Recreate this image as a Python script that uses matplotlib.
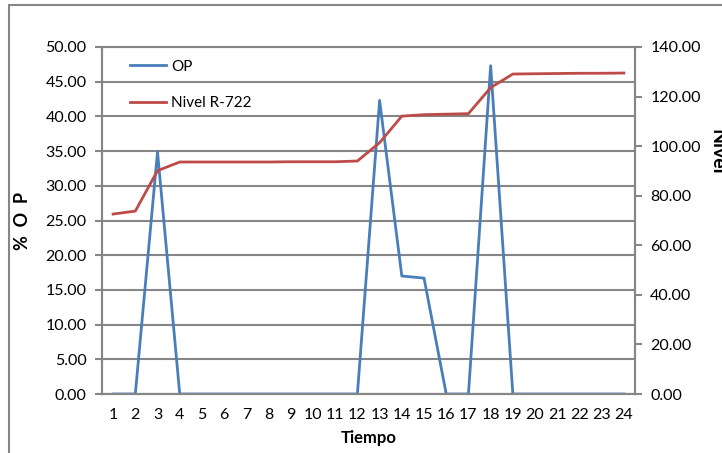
import matplotlib.pyplot as plt
from matplotlib.patches import Rectangle

plt.rcParams['font.family'] = ['Lato', 'DejaVu Sans']

# data
tiempo = list(range(1, 25))
op = [0, 0, 34.9, 0, 0, 0, 0, 0, 0, 0, 0, 0,
      42.3, 17.0, 16.7, 0, 0, 47.3, 0, 0, 0, 0, 0, 0]
nivel = [72.6, 73.8, 90.1, 93.6, 93.6, 93.6, 93.6, 93.6, 93.7, 93.7, 93.7, 94.0,
         101.4, 112.1, 112.7, 112.9, 113.1, 123.6, 129.1, 129.2, 129.3, 129.4, 129.4, 129.5]
left_ticks = [0, 5, 10, 15, 20, 25, 30, 35, 40, 45, 50]
right_ticks = [0, 20, 40, 60, 80, 100, 120, 140]

grey = '#868686'
blue = '#4a7ebb'
red = '#be4b48'

fig = plt.figure(figsize=(7.22, 4.53), dpi=100)
# outer chart border (partly cut off on right/bottom)
fig.patches.append(Rectangle((9 / 722, -0.1), 1.2, 1 - 5 / 453 + 0.1,
                             transform=fig.transFigure, fill=False,
                             edgecolor=grey, linewidth=1.5))

ax = fig.add_axes([102 / 722, 59 / 453, 533 / 722, 347 / 453])
ax2 = ax.twinx()

l1, = ax.plot(tiempo, op, color=blue, linewidth=2.0, label='OP')
l2, = ax2.plot(tiempo, nivel, color=red, linewidth=2.0, label='Nivel R-722')

ax.set_xlim(0.5, 24.5)
ax.set_ylim(0, 50)
ax2.set_ylim(0, 140)
ax.set_xticks(tiempo)
ax.set_yticks(left_ticks)
ax2.set_yticks(right_ticks)
ax.set_yticklabels([f'{v:.2f}' for v in left_ticks])
ax2.set_yticklabels([f'{v:.2f}' for v in right_ticks])

ax.grid(axis='y', color=grey, linewidth=1.5)
ax.set_axisbelow(True)
for a in (ax, ax2):
    for s in a.spines.values():
        s.set_color(grey)
        s.set_linewidth(1.5)
    a.tick_params(axis='y', colors=grey, labelcolor='black', labelsize=11.5,
                  length=5, width=1.5, direction='out', pad=6)
ax.tick_params(axis='x', length=0, labelsize=11.5, pad=10)
ax2.spines['top'].set_visible(False)

ax.set_xlabel('Tiempo', fontsize=12, fontweight='bold', labelpad=6)
fig.text(22 / 722, 1 - 221 / 453, '%  O  P', rotation=90, fontsize=13,
         fontweight='bold', ha='center', va='center')
fig.text(717 / 722, 1 - 152 / 453, 'Nivel', rotation=270, fontsize=14,
         fontweight='bold', ha='center', va='center')

fig.legend(handles=[l1, l2], loc='upper left', bbox_to_anchor=(116 / 722, 1 - 46 / 453),
           frameon=False, fontsize=11, handlelength=2.4, labelspacing=1.45,
           handletextpad=0.3)

fig.savefig('out.png', dpi=100)
